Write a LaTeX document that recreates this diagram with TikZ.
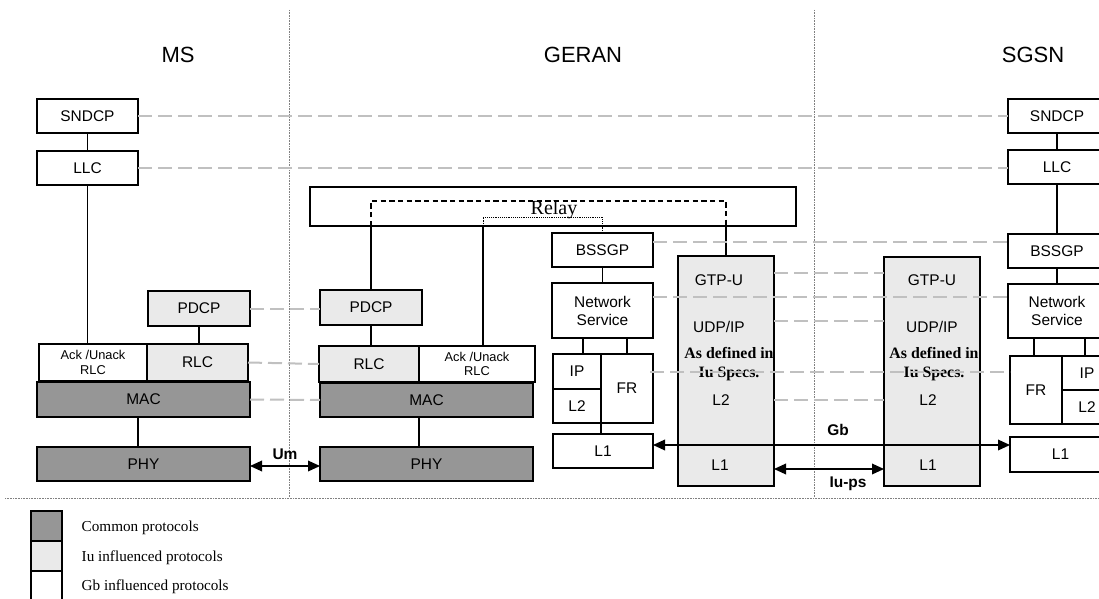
\documentclass[tikz,border=0pt]{standalone}
\usepackage{fontspec}
\setmainfont{Liberation Serif}
\setsansfont{Liberation Sans}
\usetikzlibrary{arrows.meta}
\definecolor{dk}{HTML}{969696}
\definecolor{lt}{HTML}{EAEAEA}
\definecolor{dg}{HTML}{C0C0C0}
\definecolor{rg}{HTML}{808080}
\tikzset{
  box/.style={draw=black, line width=1.1pt, inner sep=0pt, outer sep=0pt, align=center,
    font=\sffamily\fontsize{11.6}{13.5}\selectfont},
  comm/.style={box, fill=dk},
  iu/.style={box, fill=lt},
  gb/.style={box, fill=white},
  small/.style={font=\sffamily\fontsize{9.6}{11}\selectfont},
  peer/.style={draw=dg, line width=1.5pt, dash pattern=on 10.5pt off 4.5pt},
  link/.style={draw=black, line width=0.8pt},
  relaydash/.style={draw=black, line width=0.8pt, dash pattern=on 4pt off 2.5pt},
  relaydot/.style={draw=black, line width=0.6pt, dash pattern=on 0.6pt off 0.8pt},
  region/.style={draw=rg, line width=0.6pt, dash pattern=on 0.6pt off 0.6pt},
  title/.style={font=\sffamily\fontsize{16.5}{18}\selectfont},
  lbl/.style={font=\sffamily\bfseries\fontsize{11.6}{13}\selectfont},
  txt/.style={font=\sffamily\fontsize{11.6}{13}\selectfont},
  spec/.style={font=\rmfamily\bfseries\fontsize{11.9}{14}\selectfont, align=center},
  legtxt/.style={font=\rmfamily\fontsize{11.4}{13}\selectfont, anchor=west},
  biarrow/.style={draw=black, line width=1pt, {Triangle[length=9pt,width=8pt]}-{Triangle[length=9pt,width=8pt]}}
}
% \pbx{style}{name}{x1}{y1}{x2}{y2}{text}  (pixel coordinates)
\newcommand\pbx[7]{%
  \pgfmathsetmacro\bxw{(#5-#3)*0.75}%
  \pgfmathsetmacro\bxh{(#6-#4)*0.75}%
  \pgfmathsetmacro\bxcx{(#3+#5)/2}%
  \pgfmathsetmacro\bxcy{(#4+#6)/2}%
  \node[#1, minimum width=\bxw pt, minimum height=\bxh pt] (#2) at (\bxcx,\bxcy) {#7};}
\begin{document}
\begin{tikzpicture}[x=0.75pt,y=-0.75pt]
\useasboundingbox (0,0) rectangle (1099,599);
\clip (0,0) rectangle (1099,599);
\fill[white] (0,0) rectangle (1099,599);

% region separators
\draw[region] (289,10) -- (289,497);
\draw[region] (814,10) -- (814,497);
\draw[region] (5,498) -- (1099,498);

% titles
\node[title] (tMS) at (178,55) {MS};
\node[title] (tGERAN) at (583,55) {GERAN};
\node[title] (tSGSN) at (1033,55) {SGSN};

% ---------- MS ----------
\pbx{gb}{snM}{37}{99}{138}{133}{SNDCP}
\pbx{gb}{llcM}{37}{151}{138}{185}{LLC}
\pbx{iu}{pdcpM}{148}{291}{250}{326}{PDCP}
\pbx{gb,small}{akM}{39}{344}{147}{381}{Ack /Unack\\RLC}
\pbx{iu}{rlcM}{147}{344}{248}{381}{RLC}
\pbx{comm}{macM}{37}{382}{250}{417}{MAC}
\pbx{comm}{phyM}{37}{447}{250}{481}{PHY}

% ---------- GERAN ----------
\pbx{gb}{relay}{310}{187}{796}{226}{}
\node[font=\rmfamily\fontsize{15}{16}\selectfont] (relayT) at (554,210) {Relay};
\pbx{iu}{pdcpG}{320}{290}{422}{325}{PDCP}
\pbx{iu}{rlcG}{319}{346}{419}{382}{RLC}
\pbx{gb,small}{akG}{419}{346}{535}{382}{Ack /Unack\\RLC}
\pbx{comm}{macG}{320}{383}{533}{417}{MAC}
\pbx{comm}{phyG}{320}{447}{533}{481}{PHY}
\pbx{gb}{bssgpG}{552}{233}{653}{267}{BSSGP}
\pbx{gb}{nsG}{552}{283}{653}{338}{Network\\Service}
\pbx{gb}{ipG}{553}{354}{601}{389}{IP}
\pbx{gb}{l2G}{553}{389}{601}{423}{L2}
\pbx{gb}{frG}{601}{354}{653}{423}{FR}
\pbx{gb}{l1G}{553}{434}{653}{468}{L1}
\pbx{iu}{gtpG}{678}{256}{774}{486}{}
\node[txt] (gtpGa) at (719,280) {GTP-U};
\node[txt] (gtpGb) at (719,327) {UDP/IP};
\node[spec] (gtpGc) at (729,364) {As defined in\\Iu Specs.};
\node[txt] (gtpGd) at (721,400) {L2};
\node[txt] (gtpGe) at (720,465) {L1};

% ---------- SGSN ----------
\pbx{iu}{gtpS}{884}{257}{980}{486}{}
\node[txt] (gtpSa) at (932,280) {GTP-U};
\node[txt] (gtpSb) at (932,327) {UDP/IP};
\node[spec] (gtpSc) at (934,364) {As defined in\\Iu Specs.};
\node[txt] (gtpSd) at (928,400) {L2};
\node[txt] (gtpSe) at (928,465) {L1};
\pbx{gb}{snS}{1008}{99}{1106}{133}{SNDCP}
\pbx{gb}{llcS}{1008}{150}{1106}{184}{LLC}
\pbx{gb}{bssgpS}{1008}{234}{1106}{268}{BSSGP}
\pbx{gb}{nsS}{1008}{284}{1106}{338}{Network\\Service}
\pbx{gb}{frS}{1010}{356}{1062}{424}{FR}
\pbx{gb}{ipS}{1062}{356}{1112}{390}{IP}
\pbx{gb}{l2S}{1062}{390}{1112}{424}{L2}
\pbx{gb}{l1S}{1010}{437}{1111}{472}{L1}

% ---------- vertical links ----------
\draw[link] (snM.south) -- (llcM.north);
\draw[link] (llcM.south) -- (llcM.south |- akM.north);
\draw[link] (pdcpM.south) -- (pdcpM.south |- rlcM.north);
\draw[link] (macM.south -| snM.east) -- (phyM.north -| snM.east);

\coordinate (rdL) at (371,201);
\coordinate (rdR) at (726,201);
\draw[link] (pdcpG.north) -- (pdcpG.north |- relay.south);
\draw[relaydash] (pdcpG.north |- relay.south) -- (rdL) -- (rdR) -- (rdR |- relay.south);
\draw[link] (rdR |- relay.south) -- (gtpG.north);
\coordinate (rtL) at (483,217);
\coordinate (rtR) at (602.5,217);
\draw[link] (rtL |- akG.north) -- (rtL |- relay.south);
\draw[relaydot] (rtL |- relay.south) -- (rtL) -- (rtR) -- (bssgpG.north);
\draw[link] (pdcpG.south) -- (pdcpG.south |- rlcG.north);
\draw[link] (macG.south -| rlcG.east) -- (phyG.north -| rlcG.east);
\draw[link] (bssgpG.south) -- (nsG.north);
\draw[link] ([xshift=4.5pt]ipG.north) -- ([xshift=4.5pt]ipG.north |- nsG.south);
\draw[link] (frG.north) -- (frG.north |- nsG.south);
\draw[link] (l2G.south east) -- (l2G.south east |- l1G.north);

\draw[link] (snS.south) -- (llcS.north);
\draw[link] (llcS.south) -- (bssgpS.north);
\draw[link] (bssgpS.south) -- (nsS.north);
\draw[link] ([xshift=-1.5pt]frS.north) -- ([xshift=-1.5pt]frS.north |- nsS.south);
\draw[link] ([xshift=-1.5pt]ipS.north) -- ([xshift=-1.5pt]ipS.north |- nsS.south);

% ---------- peer (dashed) lines ----------
\draw[peer] (snM.east) -- (snS.west);
\draw[peer] (llcM.east) -- (llcM.east -| llcS.west);
\draw[peer] (pdcpM.east) -- (pdcpM.east -| pdcpG.west);
\draw[peer] (rlcM.east) -- (rlcG.west);
\draw[peer] (macM.east) -- (macG.west);
\coordinate (yBS) at (0,242);
\coordinate (yNS) at (0,297);
\coordinate (yGT) at (0,273);
\coordinate (yUD) at (0,321);
\coordinate (yFR) at (0,372);
\coordinate (yL2) at (0,400);
\draw[peer] (bssgpG.east |- yBS) -- (bssgpS.west |- yBS);
\draw[peer] (nsG.east |- yNS) -- (nsS.west |- yNS);
\draw[peer] (gtpG.east |- yGT) -- (gtpS.west |- yGT);
\draw[peer] (gtpG.east |- yUD) -- (gtpS.west |- yUD);
\draw[peer] ([xshift=-2.25pt]frG.east |- yFR) -- (frS.west |- yFR);
\draw[peer] (gtpG.east |- yL2) -- (gtpS.west |- yL2);

% ---------- interfaces ----------
\coordinate (yUm) at (0,466);
\coordinate (yGb) at (0,445);
\coordinate (yIu) at (0,469);
\draw[biarrow] (phyM.east |- yUm) -- (phyG.west |- yUm);
\node[lbl] (um) at (285,454) {Um};
\draw[biarrow] (l1G.east |- yGb) -- (l1S.west |- yGb);
\node[lbl] (gb) at (838,430) {Gb};
\draw[biarrow] (gtpG.east |- yIu) -- (gtpS.west |- yIu);
\node[lbl] (iups) at (848,484) {Iu-ps};

% ---------- legend ----------
\pbx{comm}{lg1}{31}{511}{62}{541}{}
\pbx{iu}{lg2}{31}{541}{62}{571}{}
\pbx{gb}{lg3}{31}{571}{62}{612}{}
\node[legtxt] (lt1) at (77,528) {Common protocols};
\node[legtxt] (lt2) at (77,558) {Iu influenced protocols};
\node[legtxt] (lt3) at (77,587) {Gb influenced protocols};
\end{tikzpicture}
\end{document}
